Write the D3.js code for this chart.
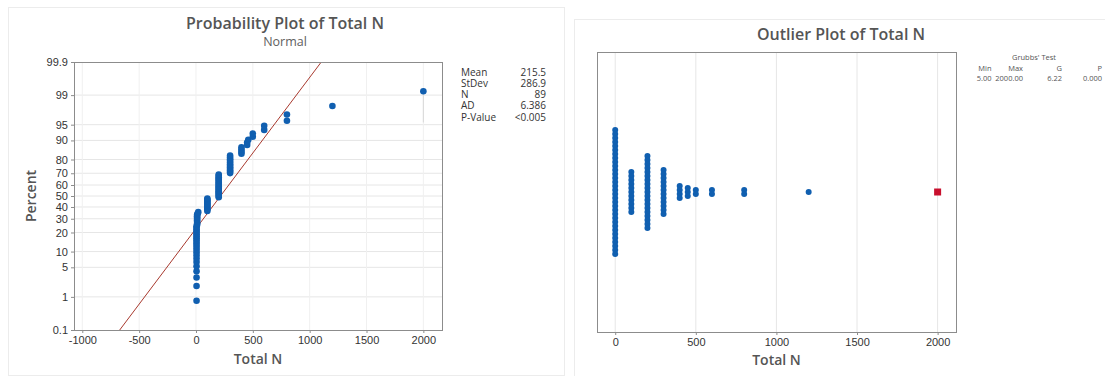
<!DOCTYPE html>
<html>
<head>
<meta charset="utf-8">
<script src="https://cdn.jsdelivr.net/npm/d3@7"></script>
<style>
  body { margin: 0; background: #fff; }
  svg { display: block; font-family: "Open Sans", "Noto Sans", sans-serif; }
</style>
</head>
<body>
<svg id="chart" width="1105" height="376"></svg>
<script>
const lowValues = [5, 5, 5, 5, 5, 5, 5, 5, 5, 5, 5, 5, 5, 5, 5, 5, 5, 5, 5, 5, 5, 5,
  10, 10, 10, 10, 10, 10, 10, 10, 15, 20];
const groupValues = [100, 200, 300, 400, 450, 460, 500, 600, 800, 1200, 2000];
const groupCounts = [11, 19, 12, 4, 2, 1, 2, 2, 2, 1, 1];

// Summary statistics shown in the legends
const statLabels = ["Mean", "StDev", "N", "AD", "P-Value"];
const statValues = ["215.5", "286.9", "89", "6.386", "<0.005"];
const fitMean = 215.5;
const fitSd = 286.9;
const grubbsHeads = ["Min", "Max", "G", "P"];
const grubbsValues = ["5.00", "2000.00", "6.22", "0.000"];
const outlierValue = 2000;

// Axis ticks
const percentTicks = [0.1, 1, 5, 10, 20, 30, 40, 50, 60, 70, 80, 90, 95, 99, 99.9];
const probXTicks = [-1000, -500, 0, 500, 1000, 1500, 2000];
const outXTicks = [0, 500, 1000, 1500, 2000];

const data = lowValues.slice();
groupValues.forEach((v, i) => { for (let k = 0; k < groupCounts[i]; k++) data.push(v); });
data.sort((a, b) => a - b);
const n = data.length;

// inverse normal CDF (Acklam)
function qnorm(p) {
  const a = [-39.69683028665376, 220.9460984245205, -275.9285104469687, 138.3577518672690, -30.66479806614716, 2.506628277459239];
  const b = [-54.47609879822406, 161.5858368580409, -155.6989798598866, 66.80131188771972, -13.28068155288572];
  const c = [-0.007784894002430293, -0.3223964580411365, -2.400758277161838, -2.549732539343734, 4.374664141464968, 2.938163982698783];
  const d = [0.007784695709041462, 0.3224671290700398, 2.445134137142996, 3.754408661907416];
  const pl = 0.02425;
  let q, r;
  if (p < pl) {
    q = Math.sqrt(-2 * Math.log(p));
    return (((((c[0] * q + c[1]) * q + c[2]) * q + c[3]) * q + c[4]) * q + c[5]) / ((((d[0] * q + d[1]) * q + d[2]) * q + d[3]) * q + 1);
  }
  if (p > 1 - pl) {
    q = Math.sqrt(-2 * Math.log(1 - p));
    return -(((((c[0] * q + c[1]) * q + c[2]) * q + c[3]) * q + c[4]) * q + c[5]) / ((((d[0] * q + d[1]) * q + d[2]) * q + d[3]) * q + 1);
  }
  q = p - 0.5; r = q * q;
  return (((((a[0] * r + a[1]) * r + a[2]) * r + a[3]) * r + a[4]) * r + a[5]) * q / (((((b[0] * r + b[1]) * r + b[2]) * r + b[3]) * r + b[4]) * r + 1);
}

const svg = d3.select("#chart");
const blue = "#105fb0";
const gridColor = "#e6e6e6";
const frameColor = "#8c8c8c";
const textColor = "#333";
const titleColor = "#555";

svg.append("rect").attr("width", 1105).attr("height", 376).attr("fill", "#fff");

// panel outlines
svg.append("rect").attr("x", 8.5).attr("y", 7.5).attr("width", 556).attr("height", 368)
  .attr("fill", "none").attr("stroke", "#ececec");
svg.append("rect").attr("x", 574.5).attr("y", 19.5).attr("width", 540).attr("height", 360)
  .attr("fill", "none").attr("stroke", "#ececec");

function styleAxis(g) {
  g.select(".domain").remove();
  g.selectAll(".tick line").attr("stroke", frameColor);
  g.selectAll(".tick text").attr("fill", textColor).style("font-size", "11px");
}

// ---------- Probability plot ----------
const L = { x0: 74, x1: 442, y0: 62, y1: 330 };
const xL = d3.scaleLinear().domain([-1073, 2164]).range([L.x0, L.x1]);
const zL = d3.scaleLinear().domain([qnorm(0.001), qnorm(0.999)]).range([L.y1, L.y0]);
const yP = p => zL(qnorm(p / 100));

const gl = svg.append("g");
gl.selectAll(".hgrid").data(percentTicks.slice(1, -1)).enter().append("line")
  .attr("x1", L.x0).attr("x2", L.x1)
  .attr("y1", d => yP(d)).attr("y2", d => yP(d))
  .attr("stroke", gridColor);
gl.selectAll(".vgrid").data(probXTicks).enter().append("line")
  .attr("x1", d => xL(d)).attr("x2", d => xL(d))
  .attr("y1", L.y0).attr("y2", L.y1)
  .attr("stroke", "#f0f0f0");

gl.append("g").attr("transform", `translate(0,${L.y1})`)
  .call(d3.axisBottom(xL).tickValues(probXTicks).tickFormat(d => String(d)).tickSize(3).tickPadding(3))
  .call(styleAxis);
gl.append("g").attr("transform", `translate(${L.x0},0)`)
  .call(d3.axisLeft(zL).tickValues(percentTicks.map(p => qnorm(p / 100)))
    .tickFormat((d, i) => String(percentTicks[i])).tickSize(3).tickPadding(3))
  .call(styleAxis);

// fitted normal line, clipped to frame
svg.append("clipPath").attr("id", "clipL").append("rect")
  .attr("x", L.x0).attr("y", L.y0).attr("width", L.x1 - L.x0).attr("height", L.y1 - L.y0);
const fitP = [0.1, 99.9];
gl.append("line").attr("clip-path", "url(#clipL)")
  .attr("x1", xL(fitMean + fitSd * qnorm(fitP[0] / 100))).attr("y1", yP(fitP[0]))
  .attr("x2", xL(fitMean + fitSd * qnorm(fitP[1] / 100))).attr("y2", yP(fitP[1]))
  .attr("stroke", "#a8392e").attr("stroke-width", 1);

// faint drop line under the max point
gl.append("line")
  .attr("x1", xL(data[n - 1])).attr("x2", xL(data[n - 1]))
  .attr("y1", yP(100 * (n - 0.3) / (n + 0.4))).attr("y2", yP(95.5))
  .attr("stroke", "#d8d8d8");

gl.selectAll(".pt").data(data).enter().append("circle")
  .attr("cx", d => xL(d))
  .attr("cy", (d, i) => yP(100 * (i + 1 - 0.3) / (n + 0.4)))
  .attr("r", 3.3).attr("fill", blue);

gl.append("rect").attr("x", L.x0 + 0.5).attr("y", L.y0 + 0.5)
  .attr("width", L.x1 - L.x0).attr("height", L.y1 - L.y0)
  .attr("fill", "none").attr("stroke", frameColor);

gl.append("text").attr("x", 285).attr("y", 29).attr("text-anchor", "middle")
  .style("font-size", "16px").style("font-weight", 600).attr("fill", titleColor)
  .text("Probability Plot of Total N");
gl.append("text").attr("x", 285).attr("y", 46).attr("text-anchor", "middle")
  .style("font-size", "12.5px").attr("fill", "#606060").text("Normal");
gl.append("text").attr("x", (L.x0 + L.x1) / 2).attr("y", 364).attr("text-anchor", "middle")
  .style("font-size", "14px").style("font-weight", 600).attr("fill", titleColor).text("Total N");
gl.append("text").attr("transform", `translate(36,${(L.y0 + L.y1) / 2}) rotate(-90)`)
  .attr("text-anchor", "middle")
  .style("font-size", "14px").style("font-weight", 600).attr("fill", titleColor).text("Percent");

statLabels.forEach((s, i) => {
  gl.append("text").attr("x", 461).attr("y", 75.5 + i * 11.3)
    .style("font-size", "10px").attr("fill", textColor).text(s);
  gl.append("text").attr("x", 546).attr("y", 75.5 + i * 11.3).attr("text-anchor", "end")
    .style("font-size", "10px").attr("fill", textColor).text(statValues[i]);
});

// ---------- Outlier plot ----------
const R = { x0: 597, x1: 956, y0: 52, y1: 332 };
const xR = d3.scaleLinear().domain([-113, 2114]).range([R.x0, R.x1]);
const yMid = (R.y0 + R.y1) / 2;
const step = 4;

const gr = svg.append("g");
gr.selectAll(".vgrid").data(outXTicks).enter().append("line")
  .attr("x1", d => xR(d)).attr("x2", d => xR(d))
  .attr("y1", R.y0).attr("y2", R.y1)
  .attr("stroke", gridColor);
gr.append("g").attr("transform", `translate(0,${R.y1})`)
  .call(d3.axisBottom(xR).tickValues(outXTicks).tickFormat(d => String(d)).tickSize(3).tickPadding(3))
  .call(styleAxis);

// dotplot: bin values, stack each bin symmetrically about the middle
const bins = d3.rollups(data, v => v.length, d => Math.round(d / 50) * 50);
const dots = [];
bins.forEach(([b, c]) => {
  for (let k = 0; k < c; k++) dots.push({ b, off: (k - (c - 1) / 2) * step });
});
gr.selectAll(".dot").data(dots.filter(d => d.b !== outlierValue)).enter().append("circle")
  .attr("cx", d => xR(d.b)).attr("cy", d => yMid + d.off)
  .attr("r", 3).attr("fill", blue);
gr.selectAll(".out").data(dots.filter(d => d.b === outlierValue)).enter().append("rect")
  .attr("x", d => xR(d.b) - 3.5).attr("y", d => yMid + d.off - 3.5)
  .attr("width", 7).attr("height", 7).attr("fill", "#c8102e");

gr.append("rect").attr("x", R.x0 + 0.5).attr("y", R.y0 + 0.5)
  .attr("width", R.x1 - R.x0).attr("height", R.y1 - R.y0)
  .attr("fill", "none").attr("stroke", frameColor);

gr.append("text").attr("x", 841).attr("y", 40).attr("text-anchor", "middle")
  .style("font-size", "16px").style("font-weight", 600).attr("fill", titleColor)
  .text("Outlier Plot of Total N");
gr.append("text").attr("x", (R.x0 + R.x1) / 2).attr("y", 365).attr("text-anchor", "middle")
  .style("font-size", "14px").style("font-weight", 600).attr("fill", titleColor).text("Total N");

const grubbsX = [991.5, 1023, 1062, 1102];
gr.append("text").attr("x", 1034).attr("y", 60).attr("text-anchor", "middle")
  .style("font-size", "7.5px").attr("fill", "#555").text("Grubbs' Test");
grubbsHeads.forEach((h, i) => {
  gr.append("text").attr("x", grubbsX[i]).attr("y", 70.5).attr("text-anchor", "end")
    .style("font-size", "7.5px").attr("fill", "#555").text(h);
  gr.append("text").attr("x", grubbsX[i]).attr("y", 80.5).attr("text-anchor", "end")
    .style("font-size", "7.5px").attr("fill", "#555").text(grubbsValues[i]);
});
</script>
</body>
</html>
